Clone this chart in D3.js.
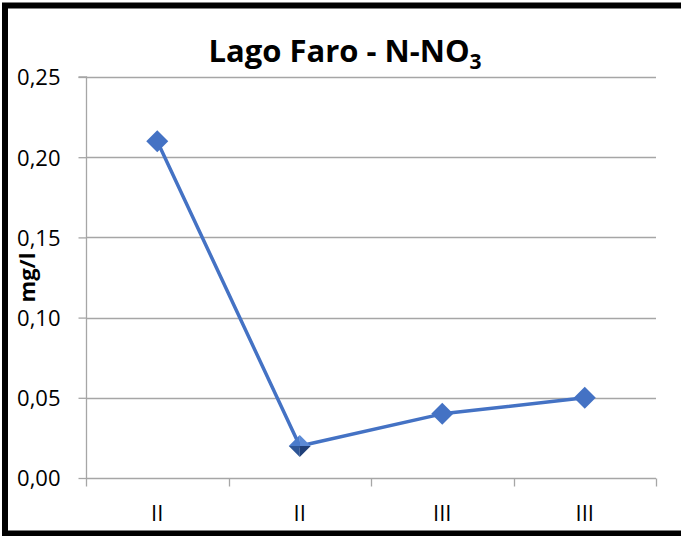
<!DOCTYPE html>
<html>
<head>
<meta charset="utf-8">
<script src="https://cdn.jsdelivr.net/npm/d3@7"></script>
<style>
  html, body { margin: 0; padding: 0; background: #fff; }
  svg { display: block; }
</style>
</head>
<body>
<svg id="chart" width="681" height="536"></svg>
<script>
// Sampling campaigns and nitrate-nitrogen concentrations (mg/l)
const categories = ["II", "II", "III", "III"];
const values = [0.21, 0.02, 0.04, 0.05];
const yTicks = [0, 0.05, 0.10, 0.15, 0.20, 0.25];

const W = 681, H = 536;
const margin = { left: 86, right: 25, top: 77, bottom: 58 };
const font = "'Open Sans', 'Liberation Sans', sans-serif";
const blue = "#4472C4";

const svg = d3.select("#chart");

// outer frame (left, top, bottom edges)
svg.append("path")
  .attr("d", `M${W},5.5 H5 V533.5 H${W}`)
  .attr("fill", "none").attr("stroke", "#000").attr("stroke-width", 6);

const x = d3.scaleBand()
  .domain(d3.range(categories.length))
  .range([margin.left, W - margin.right])
  .paddingInner(0).paddingOuter(0);

const y = d3.scaleLinear()
  .domain([0, 0.25])
  .range([H - margin.bottom, margin.top]);

const fmt = v => d3.format(".2f")(v).replace(".", ",");

// horizontal gridlines
svg.append("g")
  .selectAll("line")
  .data(yTicks.slice(1))
  .join("line")
  .attr("x1", margin.left).attr("x2", W - margin.right)
  .attr("y1", d => Math.round(y(d)) + 0.5).attr("y2", d => Math.round(y(d)) + 0.5)
  .attr("stroke", "#a6a6a6").attr("stroke-width", 1.3);

// y axis
const yAxis = svg.append("g")
  .attr("transform", `translate(${margin.left + 0.5},0)`)
  .call(d3.axisLeft(y).tickValues(yTicks).tickFormat(fmt).tickSize(8).tickPadding(18));
yAxis.select(".domain").attr("stroke", "#a6a6a6").attr("stroke-width", 1.3)
  .attr("d", `M-8,${y(0.25)}H0V${y(0)}`);
yAxis.selectAll(".tick line").attr("stroke", "#a6a6a6").attr("stroke-width", 1.3);
yAxis.selectAll(".tick text")
  .attr("font-family", font).attr("font-size", 22).attr("fill", "#000")
  .attr("dy", "0.36em");

// x axis with tick marks at category boundaries
const xAxisG = svg.append("g")
  .attr("transform", `translate(0,${Math.round(y(0)) + 0.5})`);
xAxisG.append("line")
  .attr("x1", margin.left).attr("x2", W - margin.right)
  .attr("stroke", "#a6a6a6").attr("stroke-width", 1.3);
const bounds = d3.range(categories.length + 1).map(i => i < categories.length ? x(i) : x(i - 1) + x.bandwidth());
xAxisG.selectAll(".bt")
  .data(bounds)
  .join("line")
  .attr("x1", d => Math.round(d) + 0.5).attr("x2", d => Math.round(d) + 0.5)
  .attr("y1", 0).attr("y2", 8)
  .attr("stroke", "#a6a6a6").attr("stroke-width", 1.3);
xAxisG.selectAll(".cl")
  .data(categories)
  .join("text")
  .attr("x", (d, i) => x(i) + x.bandwidth() / 2)
  .attr("y", 42)
  .attr("text-anchor", "middle")
  .attr("font-family", font).attr("font-size", 22).attr("fill", "#000")
  .text(d => d);

// y axis title
svg.append("text")
  .attr("transform", `translate(35,${(y(0.25) + y(0)) / 2}) rotate(-90)`)
  .attr("text-anchor", "middle")
  .attr("font-family", font).attr("font-size", 22).attr("font-weight", "bold")
  .text("mg/l");

// chart title with subscript
const title = svg.append("text")
  .attr("x", 345).attr("y", 62)
  .attr("text-anchor", "middle")
  .attr("font-family", font).attr("font-size", 31).attr("font-weight", "bold");
title.append("tspan").text("Lago Faro - N-NO");
title.append("tspan").attr("font-size", 21).attr("dy", 7).text("3");

// series line
const pts = values.map((v, i) => [x(i) + x.bandwidth() / 2, y(v)]);
svg.append("path")
  .attr("d", d3.line()(pts))
  .attr("fill", "none").attr("stroke", blue).attr("stroke-width", 3.5)
  .attr("stroke-linejoin", "round");

// diamond markers
const r = 11;
const markers = svg.append("g").selectAll("g")
  .data(pts)
  .join("g")
  .attr("transform", d => `translate(${d[0]},${d[1]})`);

markers.each(function (d, i) {
  const g = d3.select(this);
  if (i === 1) {
    // bevelled marker: four shaded facets
    const facets = [
      { p: [[0, -r], [r, 0], [0, 0]], c: "#5b8ad6" },
      { p: [[0, -r], [-r, 0], [0, 0]], c: "#4a7bcb" },
      { p: [[-r, 0], [0, r], [0, 0]], c: "#2d5596" },
      { p: [[r, 0], [0, r], [0, 0]], c: "#1f3f78" }
    ];
    facets.forEach(f => g.append("path")
      .attr("d", "M" + f.p.map(q => q.join(",")).join("L") + "Z")
      .attr("fill", f.c));
  } else {
    g.append("path")
      .attr("d", `M0,${-r}L${r},0L0,${r}L${-r},0Z`)
      .attr("fill", blue);
  }
});
</script>
</body>
</html>
